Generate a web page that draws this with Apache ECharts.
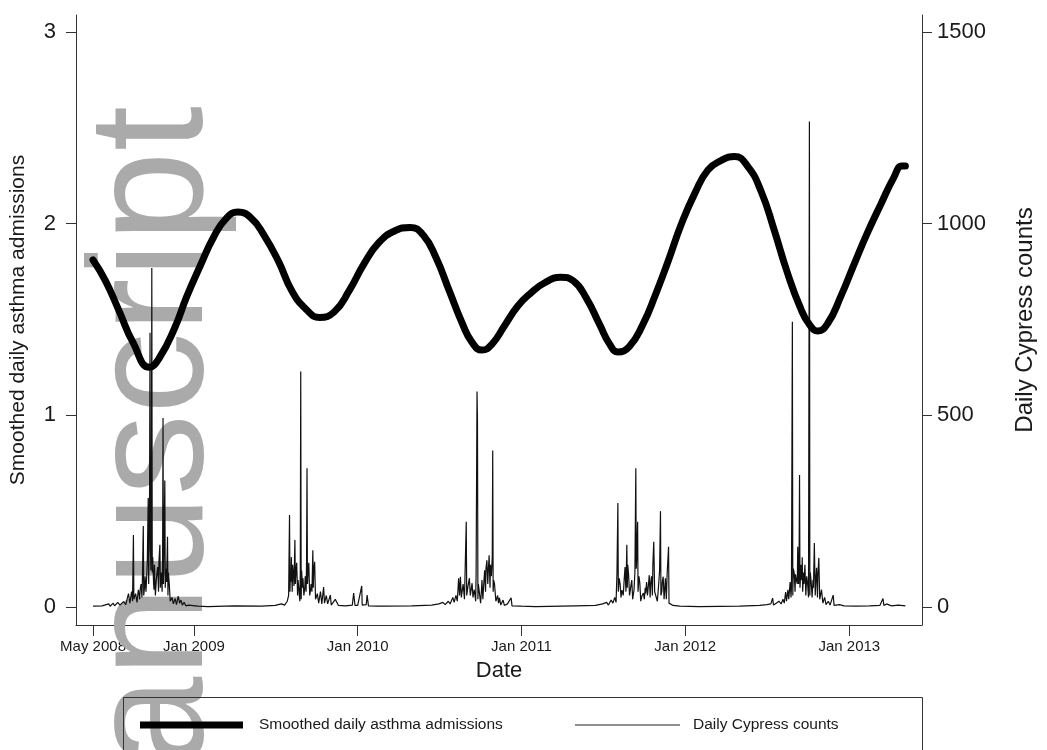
<!DOCTYPE html>
<html><head><meta charset="utf-8">
<script src="https://cdn.jsdelivr.net/npm/echarts@6/dist/echarts.min.js"></script>
<style>html,body{margin:0;padding:0;background:#fff}#c{width:1047px;height:750px}</style>
</head><body><div id="c"></div>
<script>
const FONT = '"Liberation Sans", Arial, Helvetica, sans-serif';

// x-axis ticks
const xTickDates = ['2008-05-21','2009-01-01','2010-01-01','2011-01-01','2012-01-01','2013-01-01'];
const xTickLabels = ['May 2008','Jan 2009','Jan 2010','Jan 2011','Jan 2012','Jan 2013'];
const leftTicks = [0, 1, 2, 3];
const rightTicks = [0, 500, 1000, 1500];

// Smoothed daily asthma admissions (left axis)
const smoothDates = ['2008-05-21','2008-06-18','2008-07-17','2008-08-18','2008-09-24','2008-10-16','2008-11-18','2008-12-16',
 '2009-01-15','2009-02-14','2009-03-15','2009-04-09','2009-05-08','2009-06-06','2009-07-09','2009-08-07','2009-09-09','2009-10-08','2009-11-10','2009-12-13',
 '2010-01-15','2010-02-17','2010-03-23','2010-04-28','2010-05-27','2010-06-25','2010-07-24','2010-08-22','2010-09-13','2010-10-05','2010-10-27','2010-11-25','2010-12-24',
 '2011-01-23','2011-02-21','2011-03-29','2011-04-27','2011-05-26','2011-06-25','2011-07-17','2011-08-04','2011-08-30','2011-09-28','2011-10-27','2011-11-25','2011-12-24',
 '2012-01-23','2012-02-21','2012-03-22','2012-04-20','2012-05-19','2012-06-18','2012-07-17','2012-08-15','2012-09-14','2012-10-05','2012-10-23','2012-11-14','2012-12-13',
 '2013-01-12','2013-02-10','2013-03-12','2013-04-10','2013-04-28','2013-05-06'];
const smoothValues = [1.81,1.70,1.55,1.38,1.25,1.30,1.45,1.62,
 1.78,1.93,2.03,2.06,2.03,1.94,1.80,1.65,1.55,1.51,1.54,1.65,
 1.79,1.90,1.96,1.98,1.94,1.82,1.65,1.48,1.38,1.34,1.37,1.47,1.57,
 1.64,1.69,1.72,1.70,1.61,1.47,1.37,1.33,1.36,1.47,1.63,1.81,2.00,
 2.16,2.28,2.33,2.35,2.30,2.17,1.97,1.75,1.56,1.47,1.44,1.48,1.62,
 1.79,1.95,2.10,2.24,2.30,2.30];

// Daily Cypress counts (right axis), [date, count]
const cypress2008 = [['2008-05-21',2],['2008-06-10',3],['2008-06-25',8],['2008-06-28',2],['2008-07-05',10],['2008-07-08',3],['2008-07-15',12],['2008-07-20',5],
 ['2008-07-28',14],['2008-08-02',6],['2008-08-08',35],['2008-08-11',10],['2008-08-15',40],['2008-08-17',15],['2008-08-19',188],['2008-08-20',20],
 ['2008-08-24',35],['2008-08-27',12],['2008-08-30',45],['2008-09-02',20],['2008-09-05',60],['2008-09-07',25],['2008-09-10',211],['2008-09-11',30],
 ['2008-09-14',80],['2008-09-16',40],['2008-09-19',120],['2008-09-21',284],['2008-09-22',60],['2008-09-24',300],['2008-09-25',715],['2008-09-26',150],
 ['2008-09-28',200],['2008-09-29',884],['2008-09-30',90],['2008-10-03',60],['2008-10-05',110],['2008-10-07',30],['2008-10-09',70],['2008-10-12',104],
 ['2008-10-14',40],['2008-10-17',162],['2008-10-18',50],['2008-10-20',90],['2008-10-22',40],['2008-10-24',493],['2008-10-25',60],['2008-10-28',330],
 ['2008-10-29',50],['2008-10-31',80],['2008-11-03',183],['2008-11-04',30],['2008-11-07',60],['2008-11-09',15],['2008-11-13',25],['2008-11-16',8],
 ['2008-11-20',22],['2008-11-23',6],['2008-11-27',28],['2008-11-30',10],['2008-12-03',18],['2008-12-06',5],['2008-12-10',12],['2008-12-14',3],
 ['2008-12-20',5],['2009-01-10',2],
 ['2008-09-03',45],['2008-09-08',70],['2008-09-13',55],['2008-09-18',90],['2008-09-23',140],['2008-09-27',95],['2008-10-01',130],['2008-10-04',45],
 ['2008-10-10',85],['2008-10-15',120],['2008-10-19',75],['2008-10-23',110],['2008-10-26',140],['2008-10-30',100],['2008-11-01',65],['2008-11-05',90]];
const cypress2009 = [['2009-02-01',1],['2009-04-01',3],['2009-06-01',2],['2009-07-01',4],['2009-07-15',8],['2009-07-22',5],['2009-07-28',15],['2009-07-31',30],
 ['2009-08-02',240],['2009-08-03',40],['2009-08-05',66],['2009-08-06',130],['2009-08-08',40],['2009-08-11',80],['2009-08-14',175],['2009-08-15',60],
 ['2009-08-18',115],['2009-08-20',30],['2009-08-23',45],['2009-08-25',15],['2009-08-27',614],['2009-08-28',20],['2009-08-31',50],['2009-09-03',30],
 ['2009-09-06',80],['2009-09-08',40],['2009-09-10',362],['2009-09-11',60],['2009-09-14',115],['2009-09-16',30],['2009-09-19',60],['2009-09-21',40],
 ['2009-09-23',148],['2009-09-24',50],['2009-09-27',118],['2009-09-29',20],['2009-10-03',35],['2009-10-06',10],['2009-10-10',40],['2009-10-13',8],
 ['2009-10-17',52],['2009-10-19',10],['2009-10-23',30],['2009-10-26',8],['2009-11-01',31],['2009-11-03',5],['2009-11-12',20],['2009-11-16',20],
 ['2009-11-19',4],['2009-12-05',3],['2009-12-20',5],['2009-12-23',36],['2009-12-26',4],['2010-01-01',4],['2010-01-10',55],['2010-01-11',5],
 ['2010-01-20',6],['2010-01-22',31],['2010-01-25',3],['2010-02-15',2],
 ['2009-08-04',90],['2009-08-09',110],['2009-08-12',55],['2009-08-16',85],['2009-08-21',70],['2009-08-26',90],['2009-08-29',95],['2009-09-01',75],
 ['2009-09-05',50],['2009-09-09',120],['2009-09-12',85],['2009-09-15',70],['2009-09-18',45],['2009-09-25',95]];
const cypress2010 = [['2010-03-01',2],['2010-05-01',3],['2010-06-15',5],['2010-07-01',8],['2010-07-10',12],['2010-07-15',6],['2010-07-22',15],['2010-07-26',8],
 ['2010-08-01',25],['2010-08-04',12],['2010-08-08',30],['2010-08-11',15],['2010-08-14',75],['2010-08-16',30],['2010-08-18',79],['2010-08-20',25],
 ['2010-08-24',60],['2010-08-27',20],['2010-08-31',222],['2010-09-01',30],['2010-09-04',55],['2010-09-07',75],['2010-09-09',30],['2010-09-13',62],
 ['2010-09-15',25],['2010-09-18',45],['2010-09-21',15],['2010-09-24',562],['2010-09-25',488],['2010-09-26',20],['2010-09-29',40],['2010-10-02',10],
 ['2010-10-05',70],['2010-10-07',20],['2010-10-11',96],['2010-10-13',40],['2010-10-16',122],['2010-10-18',60],['2010-10-21',135],['2010-10-23',50],
 ['2010-10-26',80],['2010-10-29',408],['2010-10-30',40],['2010-11-02',60],['2010-11-05',15],['2010-11-09',30],['2010-11-11',10],['2010-11-13',24],
 ['2010-11-16',5],['2010-11-21',18],['2010-11-24',4],['2010-12-01',8],['2010-12-09',24],['2010-12-11',3],['2011-01-01',2],
 ['2010-09-12',35],['2010-09-22',90],['2010-09-27',60],['2010-10-04',45],['2010-10-09',60],['2010-10-14',100],['2010-10-19',90],['2010-10-24',110],
 ['2010-10-28',130],['2010-10-31',70]];
const cypress2011 = [['2011-02-01',1],['2011-05-01',3],['2011-06-15',4],['2011-07-01',8],['2011-07-10',12],['2011-07-14',5],['2011-07-20',18],['2011-07-24',10],
 ['2011-07-28',25],['2011-07-31',12],['2011-08-02',88],['2011-08-04',271],['2011-08-05',40],['2011-08-09',60],['2011-08-11',25],['2011-08-13',44],
 ['2011-08-16',30],['2011-08-20',104],['2011-08-22',40],['2011-08-24',162],['2011-08-25',50],['2011-08-28',83],['2011-08-30',30],['2011-09-04',70],
 ['2011-09-06',20],['2011-09-09',45],['2011-09-13',362],['2011-09-14',100],['2011-09-17',222],['2011-09-18',40],['2011-09-22',62],['2011-09-24',15],
 ['2011-09-27',30],['2011-09-30',36],['2011-10-02',20],['2011-10-04',50],['2011-10-07',65],['2011-10-09',30],['2011-10-13',83],['2011-10-15',25],
 ['2011-10-18',80],['2011-10-20',30],['2011-10-23',170],['2011-10-25',40],['2011-10-28',36],['2011-10-31',15],['2011-11-03',60],['2011-11-07',250],
 ['2011-11-08',30],['2011-11-10',40],['2011-11-13',79],['2011-11-15',20],['2011-11-18',75],['2011-11-20',20],['2011-11-25',157],['2011-11-26',10],
 ['2011-11-29',12],['2011-12-05',4],['2011-12-20',2],
 ['2011-08-07',75],['2011-08-18',70],['2011-08-26',110],['2011-09-02',55],['2011-09-11',90],['2011-09-15',130],['2011-09-20',80],['2011-10-05',35],
 ['2011-10-11',55],['2011-10-16',60],['2011-10-21',110],['2011-11-05',95],['2011-11-11',65],['2011-11-22',90]];
const cypress2012 = [['2012-02-01',1],['2012-05-01',2],['2012-06-15',4],['2012-07-01',6],['2012-07-10',8],['2012-07-14',23],['2012-07-16',5],['2012-07-22',10],
 ['2012-07-28',15],['2012-08-02',8],['2012-08-06',20],['2012-08-09',10],['2012-08-12',39],['2012-08-14',15],['2012-08-17',45],['2012-08-19',20],
 ['2012-08-22',65],['2012-08-24',25],['2012-08-27',744],['2012-08-28',30],['2012-08-31',90],['2012-09-02',40],['2012-09-05',70],['2012-09-08',157],
 ['2012-09-10',60],['2012-09-12',344],['2012-09-13',50],['2012-09-15',110],['2012-09-17',70],['2012-09-19',40],['2012-09-21',90],['2012-09-24',110],
 ['2012-09-26',30],['2012-09-30',60],['2012-10-02',25],['2012-10-04',1266],['2012-10-05',30],['2012-10-08',65],['2012-10-10',25],['2012-10-13',50],
 ['2012-10-15',167],['2012-10-17',30],['2012-10-20',102],['2012-10-22',25],['2012-10-25',128],['2012-10-27',20],['2012-10-31',45],['2012-11-03',10],
 ['2012-11-07',25],['2012-11-10',6],['2012-11-15',15],['2012-11-19',5],['2012-11-26',31],['2012-11-28',4],['2012-12-10',6],['2012-12-20',3],
 ['2012-08-25',50],['2012-08-29',100],['2012-09-03',85],['2012-09-07',60],['2012-09-11',120],['2012-09-14',75],['2012-09-18',130],['2012-09-22',60],
 ['2012-09-28',80],['2012-10-06',90],['2012-10-12',70],['2012-10-18',60],['2012-10-23',85]];
const cypress2013 = [['2013-01-15',2],['2013-02-15',3],['2013-03-10',4],['2013-03-17',22],['2013-03-19',4],['2013-03-25',8],['2013-04-05',3],['2013-04-20',5],['2013-05-06',3]];

const ts = d => Date.parse(d + 'T00:00:00Z');
const xTickTs = xTickDates.map(ts);
const xMin = ts('2008-04-13'), xMax = ts('2013-06-12');

const smoothData = smoothDates.map((d, i) => [ts(d), smoothValues[i]]);
const cypressData = [].concat(cypress2008, cypress2009, cypress2010, cypress2011, cypress2012, cypress2013)
  .map(p => [ts(p[0]), p[1]])
  .sort((a, b) => a[0] - b[0]);

const axisColor = '#333';
const txtColor = '#1a1a1a';

const chart = echarts.init(document.getElementById('c'), null, {renderer: 'canvas'});
chart.setOption({
  animation: false,
  backgroundColor: '#fff',
  textStyle: {fontFamily: FONT},
  grid: {left: 75, right: 125, top: 15, bottom: 125, containLabel: false},
  xAxis: {
    type: 'value', min: xMin, max: xMax,
    axisLine: {show: true, onZero: false, lineStyle: {color: axisColor, width: 1}},
    axisTick: {show: true, customValues: xTickTs, length: 11, lineStyle: {color: axisColor}},
    axisLabel: {customValues: xTickTs, formatter: v => xTickLabels[xTickTs.indexOf(v)], fontSize: 15, margin: 14, color: txtColor, fontFamily: FONT},
    splitLine: {show: false},
    name: 'Date', nameLocation: 'middle', nameGap: 35,
    nameTextStyle: {fontSize: 22, color: txtColor, fontFamily: FONT}
  },
  yAxis: [{
    type: 'value', min: -0.094, max: 3.088, position: 'left',
    axisLine: {show: true, onZero: false, lineStyle: {color: axisColor, width: 1}},
    axisTick: {show: true, customValues: leftTicks, length: 10, lineStyle: {color: axisColor}},
    axisLabel: {customValues: leftTicks, formatter: v => String(v), fontSize: 22, margin: 20, color: txtColor, fontFamily: FONT},
    splitLine: {show: false},
    name: 'Smoothed daily asthma admissions', nameLocation: 'middle', nameGap: 47,
    nameTextStyle: {fontSize: 21, color: txtColor, fontFamily: FONT}
  }, {
    type: 'value', min: -47, max: 1544, position: 'right',
    axisLine: {show: true, onZero: false, lineStyle: {color: axisColor, width: 1}},
    axisTick: {show: true, customValues: rightTicks, length: 10, lineStyle: {color: axisColor}},
    axisLabel: {customValues: rightTicks, formatter: v => String(v), fontSize: 22, margin: 15, color: txtColor, fontFamily: FONT},
    splitLine: {show: false},
    name: 'Daily Cypress counts', nameLocation: 'middle', nameGap: 91,
    nameTextStyle: {fontSize: 24, color: txtColor, fontFamily: FONT}
  }],
  legend: [{
    data: ['Smoothed daily asthma admissions'], left: 140, top: 717, padding: 0,
    icon: 'rect', itemWidth: 103, itemHeight: 7, itemStyle: {color: '#000'},
    textStyle: {fontSize: 15.5, color: txtColor, fontFamily: FONT, padding: [0, 0, 0, 11]}
  }, {
    data: ['Daily Cypress counts'], left: 575, top: 717, padding: 0,
    icon: 'rect', itemWidth: 105, itemHeight: 1, itemStyle: {color: '#222'},
    textStyle: {fontSize: 15.5, color: txtColor, fontFamily: FONT, padding: [0, 0, 0, 8]}
  }],
  graphic: [{
    type: 'text', x: 157, y: 106, rotation: Math.PI / 2, z: 1,
    style: {text: 'anuscript', font: '163px "Liberation Sans", Arial, sans-serif', fill: '#aaaaaa', align: 'right', verticalAlign: 'middle'}
  }, {
    type: 'rect', z: 10,
    shape: {x: 123.5, y: 697.5, width: 799, height: 80},
    style: {fill: 'none', stroke: axisColor, lineWidth: 1}
  }],
  series: [{
    name: 'Daily Cypress counts', type: 'line', yAxisIndex: 1,
    data: cypressData, symbol: 'none', sampling: 'none',
    lineStyle: {width: 1.2, color: '#111'}, itemStyle: {color: '#111'}, z: 2
  }, {
    name: 'Smoothed daily asthma admissions', type: 'line', yAxisIndex: 0,
    data: smoothData, smooth: true, symbol: 'none',
    lineStyle: {width: 7, color: '#000', cap: 'round', join: 'round'}, itemStyle: {color: '#000'}, z: 3
  }]
});
</script>
</body></html>
